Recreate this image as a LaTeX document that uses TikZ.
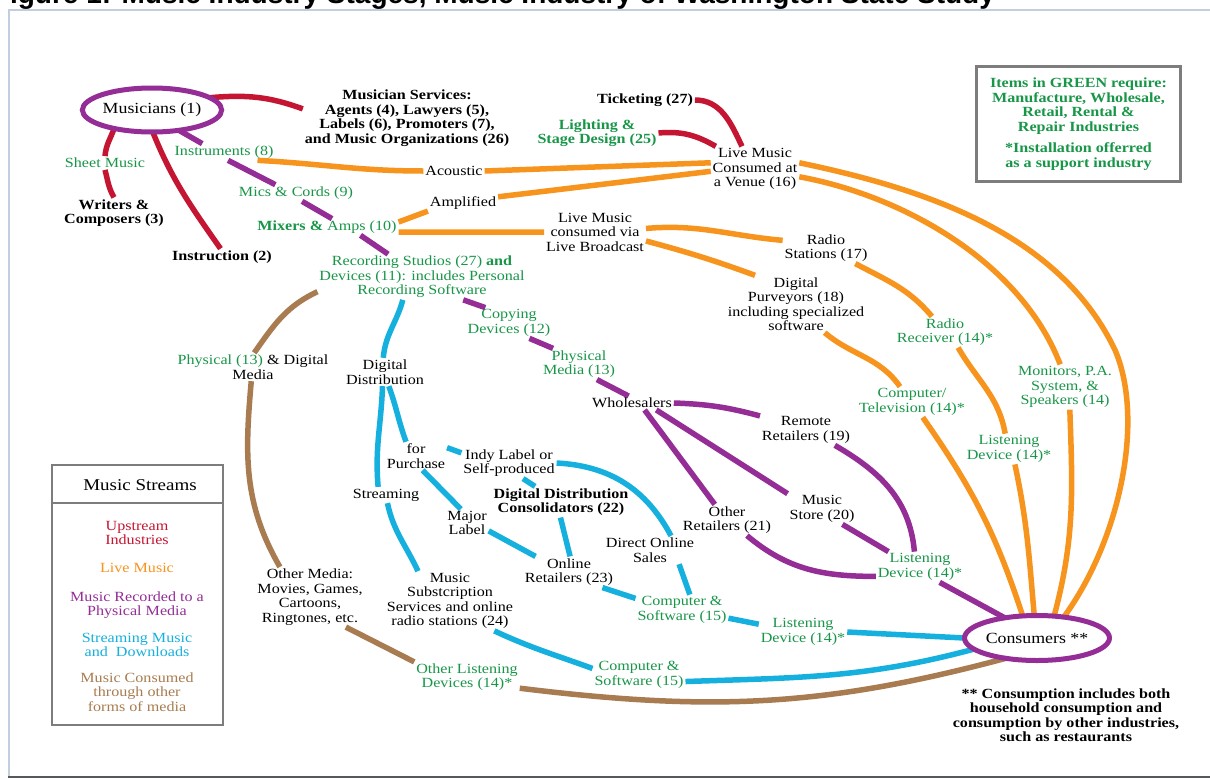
\documentclass[tikz,border=0pt]{standalone}
\usepackage{fontspec}
\setmainfont{Liberation Serif}[FakeStretch=1.15]
\newfontfamily\titlefont{Liberation Sans}
\usetikzlibrary{shapes.geometric,backgrounds}
\definecolor{redc}{RGB}{196,22,50}
\definecolor{orgc}{RGB}{247,148,29}
\definecolor{purc}{RGB}{148,45,150}
\definecolor{cyac}{RGB}{22,176,222}
\definecolor{brnc}{RGB}{168,124,80}
\definecolor{tgreen}{RGB}{24,150,72}
\definecolor{boxgray}{RGB}{125,125,125}
\definecolor{frameA}{RGB}{192,206,222}
\definecolor{frameB}{RGB}{85,88,92}
\newcommand\fs{\fontsize{14}{14.5}\selectfont}
\begin{document}
\begin{tikzpicture}[x=1pt,y=1pt,
  every node/.style={font=\fs, align=center, inner sep=2pt, outer sep=0pt},
  gr/.style={text=tgreen},
  bf/.style={font=\fs\bfseries},
  conn/.style={line width=5.5pt},
  redl/.style={conn, draw=redc},
  orgl/.style={conn, draw=orgc},
  purl/.style={conn, draw=purc},
  cyal/.style={conn, draw=cyac},
  brnl/.style={conn, draw=brnc},
  oval/.style={ellipse, draw=purc, line width=5pt, inner sep=0pt, font=\fontsize{15.5}{16}\selectfont},
  legframe/.style={draw=boxgray, line width=2.5pt}
]
\useasboundingbox (0,0) rectangle (1210,-779);

% title (cut off at the top edge)
\begin{scope}
  \clip (0,0) rectangle (1210,-9);
  \node[anchor=base west, inner sep=0pt, font=\titlefont\bfseries\fontsize{28}{30}\selectfont] (title) at (-7,-3)
    {Figure 1: Music Industry Stages, Music Industry of Washington State Study};
\end{scope}

% ---------- nodes ----------
\node[oval, minimum width=133pt, minimum height=44pt] (musicians) at (152,-110) {Musicians (1)};
\node[bf] (services) at (407,-118) {Musician Services:\\Agents (4), Lawyers (5),\\Labels (6), Promoters (7),\\and Music Organizations (26)};
\node[gr] (sheet) at (105,-163) {Sheet Music};
\node[bf] (writers) at (114,-213) {Writers \&\\Composers (3)};
\node[bf] (instruction) at (222,-257) {Instruction (2)};
\node[gr] (instruments) at (224,-152) {Instruments (8)};
\node[gr] (mics) at (296,-193) {Mics \& Cords (9)};
\node[gr] (mixers) at (327,-227) {\textbf{Mixers \&} Amps (10)};
\node[gr] (rec) at (422,-277) {Recording Studios (27) \textbf{and}\\Devices (11): includes Personal\\Recording Software};
\node[gr] (copying) at (509,-323) {Copying\\Devices (12)};
\node[gr] (physmedia) at (579,-364) {Physical\\Media (13)};
\node (wholesalers) at (632,-403) {Wholesalers};
\node (remote) at (806,-430) {Remote\\Retailers (19)};
\node (musicstore) at (822,-509) {Music\\Store (20)};
\node (otherret) at (727,-520) {Other\\Retailers (21)};
\node[gr] (listenP) at (920,-567) {Listening\\Device (14)*};
\node[oval, minimum width=125pt, minimum height=45pt] (consumers) at (1037,-638) {Consumers **};
\node[bf] (footnote) at (1066,-715) {** Consumption includes both\\household consumption and\\consumption by other industries,\\such as restaurants};
\node (acoustic) at (454,-171) {Acoustic};
\node (amplified) at (463,-203) {Amplified};
\node (venue) at (755,-169) {Live Music\\Consumed at\\a Venue (16)};
\node[bf] (ticketing) at (645,-100) {Ticketing (27)};
\node[bf, gr] (lighting) at (597,-133) {Lighting \&\\Stage Design (25)};
\node (broadcast) at (595,-232) {Live Music\\consumed via\\Live Broadcast};
\node (radio) at (826,-248) {Radio\\Stations (17)};
\node (purveyors) at (796,-304) {Digital\\Purveyors (18)\\including specialized\\software};
\node[gr] (receiver) at (945,-332) {Radio\\Receiver (14)*};
\node[gr] (comptv) at (912,-402) {Computer/\\Television (14)*};
\node[gr] (listenO) at (1009,-449) {Listening\\Device (14)*};
\node[gr] (monitors) at (1065,-387) {Monitors, P.A.\\System, \&\\Speakers (14)};
\node (physdig) at (253,-367) {\textcolor{tgreen}{Physical (13)} \& Digital\\Media};
\node (digdist) at (385,-372) {Digital\\Distribution};
\node (purchase) at (416,-456) {for\\Purchase};
\node (indy) at (509,-463) {Indy Label or\\Self-produced};
\node (streaming) at (386,-495) {Streaming};
\node[bf] (consol) at (561,-502) {Digital Distribution\\Consolidators (22)};
\node (major) at (467,-523) {Major\\Label};
\node (direct) at (650,-550) {Direct Online\\Sales};
\node (online) at (569,-572) {Online\\Retailers (23)};
\node[gr] (compsoft1) at (682,-610) {Computer \&\\Software (15)};
\node[gr] (listenC) at (803,-632) {Listening\\Device (14)*};
\node (subscr) at (450,-601) {Music\\Substcription\\Services and online\\radio stations (24)};
\node[gr] (compsoft2) at (639,-675) {Computer \&\\Software (15)};
\node (othermedia) at (310,-597) {Other Media:\\Movies, Games,\\Cartoons,\\Ringtones, etc.};
\node[gr] (otherlisten) at (467,-677) {Other Listening\\Devices (14)*};

% green note box
\node[draw=boxgray, line width=3pt, minimum width=204pt, minimum height=115pt, text=tgreen, font=\fs\bfseries] (greenbox) at (1078.5,-124)
  {Items in GREEN require:\\Manufacture, Wholesale,\\Retail, Rental \&\\Repair Industries\\[7pt]*Installation offerred\\as a support industry};

% legend
\node[font=\fontsize{16.5}{17}\selectfont] (leghead) at (140,-485) {Music Streams};
\node[text=redc] (legred) at (137,-533) {Upstream\\Industries};
\node[text=orgc] (legorg) at (137,-568) {Live Music};
\node[text=purc] (legpur) at (137,-605) {Music Recorded to a\\Physical Media};
\node[text=cyac] (legcya) at (137,-645) {Streaming Music\\and\ \ Downloads};
\node[text=brnc] (legbrn) at (137,-692) {Music Consumed\\through other\\forms of media};
\draw[legframe] (52,-465) rectangle (223,-725);
\draw[legframe] (52,-503) -- (223,-503);

% ---------- connectors ----------
\begin{scope}[on background layer]
  \fill[white] (0,0) rectangle (1210,-779);
  \draw[draw=frameA, line width=1.5pt] (1215,-10) -- (9,-10) -- (9,-777);
  \draw[draw=frameB, line width=2pt] (8,-777) -- (1215,-777);

  % red: upstream
  \draw[redl] (musicians.12) to[out=5,in=160] (services.175);
  \draw[redl] (musicians.206) to[out=250,in=85] (sheet.north);
  \draw[redl] (sheet.south) to[out=-75,in=120] (writers.north);
  \draw[redl] (musicians.-88) to[out=-68,in=125] (instruction.100);
  \draw[redl] (ticketing.east) to[out=0,in=115] (venue.120);
  \draw[redl] (lighting.east) to[out=5,in=150] (venue.150);

  % purple: physical media
  \draw[purl] (musicians.-37) -- (instruments.159);
  \draw[purl] (instruments.-64) -- (mics.158);
  \draw[purl] (mics.-54) -- (mixers.59);
  \draw[purl] (mixers.-14) -- (rec.146);
  \draw[purl] (rec.-29) -- (copying.147);
  \draw[purl] (copying.-37) -- (physmedia.149);
  \draw[purl] (physmedia.-41) -- (wholesalers.116);
  \draw[purl] (wholesalers.east) to[out=-2,in=165] (remote.163);
  \draw[purl] (wholesalers.-16) -- (musicstore.156);
  \draw[purl] (wholesalers.-29) -- (otherret.128);
  \draw[purl] (remote.-28) to[out=-30,in=95] (listenP.110);
  \draw[purl] (musicstore.-37) -- (listenP.154);
  \draw[purl] (otherret.-38) to[out=-40,in=180] (listenP.192);
  \draw[purl] (listenP.-38) -- (consumers.148);

  % orange: live music
  \draw[orgl] (instruments.-14) to[out=-3,in=180] (acoustic.west);
  \draw[orgl] (acoustic.east) -- (venue.172);
  \draw[orgl] (mixers.4) -- (amplified.193);
  \draw[orgl] (amplified.10) -- (venue.183);
  \draw[orgl] (mixers.-4) -- (broadcast.west);
  \draw[orgl] (broadcast.4) to[out=5,in=175] (radio.170);
  \draw[orgl] (broadcast.-10) to[out=-15,in=160] (purveyors.145);
  \draw[orgl] (radio.-28) to[out=-28,in=130] (receiver.130);
  \draw[orgl] (receiver.-50) to[out=-60,in=100] (listenO.104);
  \draw[orgl] (listenO.-69) to[out=-78,in=95] (consumers.97);
  \draw[orgl] (purveyors.-45) to[out=-40,in=125] (comptv.128);
  \draw[orgl] (comptv.-55) to[out=-55,in=108] (consumers.123);
  \draw[orgl] (venue.-10) .. controls (900,-195) and (1020,-260) .. (monitors.102);
  \draw[orgl] (monitors.-78) to[out=-88,in=75] (consumers.52);
  \draw[orgl] (venue.8) .. controls (930,-190) and (1060,-235) .. (1115,-350)
                        .. controls (1145,-420) and (1120,-540) .. (consumers.38);

  % cyan: streaming and downloads
  \draw[cyal] (rec.-130) to[out=-105,in=85] (digdist.97);
  \draw[cyal] (digdist.-100) to[out=-92,in=95] (streaming.134);
  \draw[cyal] (streaming.-80) to[out=-78,in=115] (subscr.137);
  \draw[cyal] (digdist.-75) to[out=-70,in=110] (purchase.125);
  \draw[cyal] (purchase.15) -- (indy.168);
  \draw[cyal] (purchase.-65) -- (major.114);
  \draw[cyal] (indy.-48) -- (consol.149);
  \draw[cyal] (indy.east) to[out=-3,in=118] (direct.34);
  \draw[cyal] (direct.-26) -- (compsoft1.63);
  \draw[cyal] (consol.-92) -- (online.86);
  \draw[cyal] (major.-20) -- (online.155);
  \draw[cyal] (online.-25) -- (compsoft1.166);
  \draw[cyal] (compsoft1.-10) -- (listenC.170);
  \draw[cyal] (listenC.east) -- (consumers.180);
  \draw[cyal] (subscr.-34) to[out=-25,in=160] (compsoft2.172);
  \draw[cyal] (compsoft2.-8) to[out=2,in=195] (consumers.190);

  % brown: other media
  \draw[brnl] (rec.188) to[out=205,in=55] (physdig.85);
  \draw[brnl] (physdig.-97) to[out=-95,in=120] (othermedia.135);
  \draw[brnl] (othermedia.-40) -- (otherlisten.164);
  \draw[brnl] (otherlisten.-12) to[out=-7,in=195] (consumers.213);
\end{scope}
\end{tikzpicture}
\end{document}
